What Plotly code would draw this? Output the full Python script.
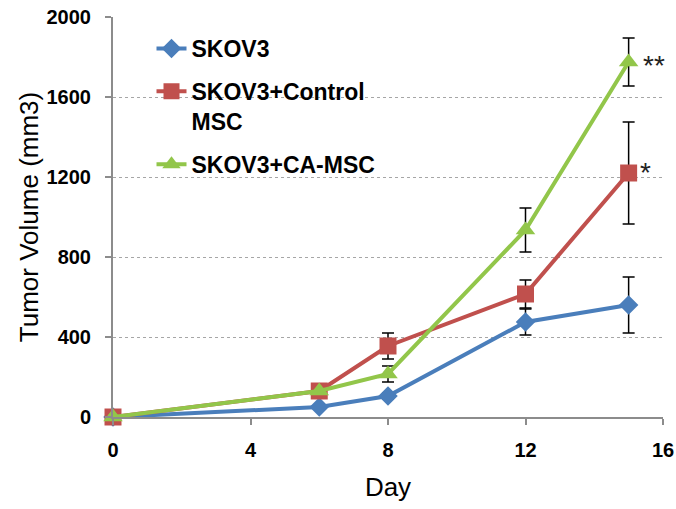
import plotly.graph_objects as go

days = [0, 6, 8, 12, 15]
skov3 = [0, 50, 105, 475, 560]
skov3_err = [0, 0, 15, 65, 140]
control = [0, 130, 355, 615, 1220]
control_err = [0, 0, 65, 70, 255]
camsc = [0, 130, 215, 935, 1775]
camsc_err = [0, 0, 40, 110, 120]

names = ["SKOV3", "SKOV3+Control<br>MSC", "SKOV3+CA-MSC"]
colors = ["#4A7EBB", "#C0504D", "#92C64A"]
symbols = ["diamond", "square", "triangle-up"]
msizes = [15, 17, 17]

fig = go.Figure()
for i, (vals, errs, name, col, sym, ms) in enumerate(zip([skov3, control, camsc],
                                                         [skov3_err, control_err, camsc_err],
                                                         names, colors, symbols, msizes)):
    fig.add_trace(go.Scatter(
        x=days, y=vals, name=name, mode="lines+markers", legendgroup=f"g{i}",
        line=dict(color=col, width=4),
        marker=dict(symbol=sym, size=ms, color=col),
        error_y=dict(type="data", array=errs, visible=True, color="black", thickness=1.5, width=6),
        cliponaxis=False,
    ))

fig.add_annotation(x=15, y=1775, text="**", showarrow=False, xshift=25, yshift=-3,
                   font=dict(family="Liberation Sans", size=28, color="#222"))
fig.add_annotation(x=15, y=1220, text="*", showarrow=False, xshift=17, yshift=1,
                   font=dict(family="Liberation Sans", size=28, color="#222"))

fig.update_layout(
    width=676, height=509,
    margin=dict(l=113, r=13, t=17, b=92),
    paper_bgcolor="white", plot_bgcolor="white",
    font=dict(family="Liberation Sans", color="black"),
    showlegend=True,
    legend=dict(x=0.07, y=0.975, xanchor="left", yanchor="top", valign="top",
                font=dict(family="Liberation Sans", size=23, color="black", weight="bold"),
                bgcolor="rgba(0,0,0,0)", tracegroupgap=10),
)
fig.update_xaxes(range=[0, 16], tickvals=[0, 4, 8, 12, 16], automargin=False,
                 showline=True, linecolor="#8C8C8C", linewidth=2,
                 ticks="outside", ticklen=6, tickcolor="#8C8C8C", tickwidth=1.5,
                 showgrid=False, zeroline=False, ticklabelstandoff=8,
                 tickfont=dict(size=20, weight="bold"),
                 title=dict(text="Day", font=dict(size=26), standoff=18))
fig.update_yaxes(range=[0, 2000], tickvals=[0, 400, 800, 1200, 1600, 2000], automargin=False,
                 showline=True, linecolor="#8C8C8C", linewidth=2,
                 ticks="outside", ticklen=6, tickcolor="#8C8C8C", tickwidth=1.5,
                 showgrid=True, gridcolor="#A6A6A6", griddash="dot", gridwidth=1,
                 zeroline=False, ticklabelstandoff=10,
                 tickfont=dict(size=20, weight="bold"),
                 title=dict(text="Tumor Volume (mm3)", font=dict(size=26), standoff=0))

fig.write_html("out.html")
